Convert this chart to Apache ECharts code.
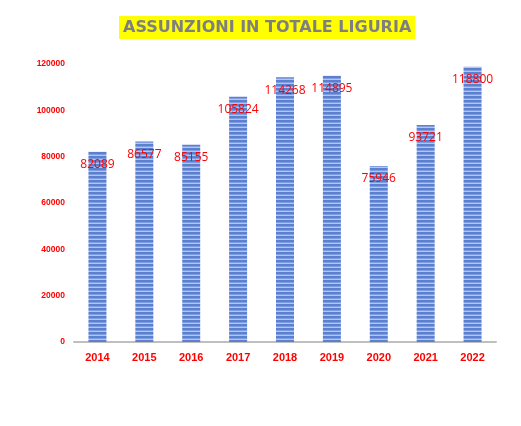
<!DOCTYPE html>
<html>
<head>
<meta charset="utf-8">
<script src="https://cdn.jsdelivr.net/npm/echarts@6/dist/echarts.min.js"></script>
<style>
  html, body { margin: 0; padding: 0; background: #fff; }
  #chart { width: 521px; height: 426px; }
</style>
</head>
<body>
<div id="chart"></div>
<script>
const years = ['2014', '2015', '2016', '2017', '2018', '2019', '2020', '2021', '2022']
const assunzioni = [82089, 86577, 85155, 105824, 114268, 114895, 75946, 93721, 118800]

// striped fill like the original bars
const makeStripes = () => {
  const c = document.createElement('canvas')
  c.width = 4
  c.height = 4
  const ctx = c.getContext('2d')
  ctx.fillStyle = '#5b80d0'
  ctx.fillRect(0, 0, 4, 4)
  ctx.fillStyle = '#7f9de0'
  ctx.fillRect(0, 2, 4, 1)
  ctx.fillStyle = '#b4c6ee'
  ctx.fillRect(0, 3, 4, 1)
  return c
}

const chart = echarts.init(document.getElementById('chart'))

const option = {
  backgroundColor: '#fff',
  title: {
    text: 'ASSUNZIONI IN TOTALE LIGURIA',
    left: 119,
    top: 16,
    backgroundColor: '#ffff00',
    padding: [4, 4, 3, 4],
    textStyle: {
      color: '#7f7f7f',
      fontFamily: 'DejaVu Sans',
      fontWeight: 'bold',
      fontSize: 16
    }
  },
  grid: {
    left: 74,
    right: 25,
    top: 64,
    bottom: 84
  },
  xAxis: {
    type: 'category',
    data: years,
    axisTick: { show: false },
    axisLine: { lineStyle: { color: '#bfbfbf', width: 2 } },
    axisLabel: {
      color: '#ff0000',
      fontWeight: 'bold',
      fontSize: 11,
      fontFamily: 'Liberation Sans',
      margin: 10
    }
  },
  yAxis: {
    type: 'value',
    min: 0,
    max: 120000,
    interval: 20000,
    splitLine: { show: false },
    axisLine: { show: false },
    axisTick: { show: false },
    axisLabel: {
      color: '#ff0000',
      fontWeight: 'bold',
      fontSize: 8.5,
      fontFamily: 'Liberation Sans',
      margin: 9,
      formatter: (v) => String(v)
    }
  },
  series: [{
    type: 'bar',
    data: assunzioni,
    barWidth: 18,
    itemStyle: {
      color: { image: makeStripes(), repeat: 'repeat' }
    },
    label: {
      show: true,
      position: 'insideTop',
      distance: 7,
      color: '#ff0000',
      fontSize: 12,
      fontFamily: 'Open Sans'
    }
  }]
}

chart.setOption(option)
</script>
</body>
</html>
